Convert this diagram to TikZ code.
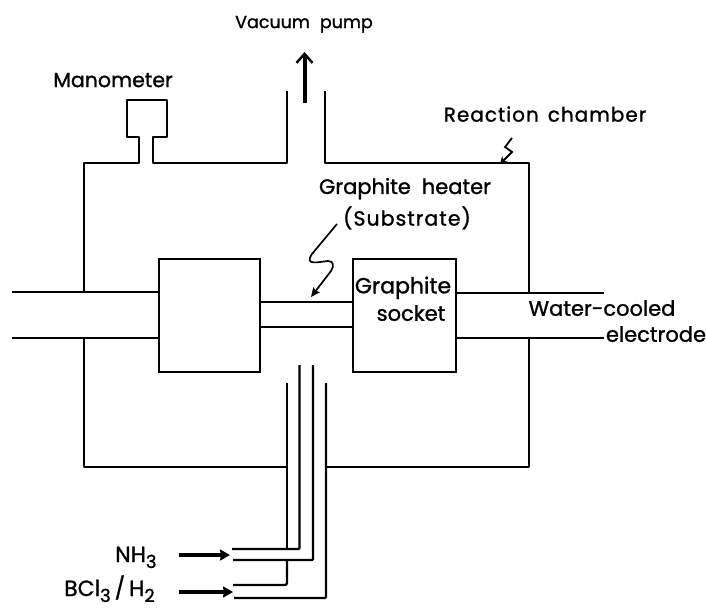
\documentclass[tikz,border=0pt]{standalone}
\usepackage{fontspec}
\setmainfont{Poppins}[AutoFakeBold=1.2]
\usetikzlibrary{arrows.meta}
\newcommand{\lsz}[1]{\fontsize{#1}{#1}\selectfont\bfseries}
\newcommand{\lowd}[1]{\raisebox{-6pt}{\fontsize{18}{18}\selectfont #1}}
\tikzset{
  wall/.style={line width=2.2pt,line join=round,line cap=butt},
  block/.style={draw,line width=2.2pt,minimum width=101pt,minimum height=113pt,inner sep=0pt,anchor=north west},
  label/.style={inner sep=0pt,text depth=0pt},
  feed/.style={line width=3.8pt,-{Stealth[length=10pt,width=11pt,inset=1pt]}},
  pointer/.style={line width=1.7pt,-{Stealth[length=9pt,width=8pt,inset=1pt]}},
}
\begin{document}
\begin{tikzpicture}[x=1pt,y=-1pt]
\useasboundingbox (0,0) rectangle (706,608);
% blocks
\node[block] (lblock) at (158,258) {};
\node[block,minimum width=103pt] (socket) at (352,258) {};
% chamber with manometer and pump port
\draw[wall] (287,91) -- (287,163) -- (153,163) -- (153,137) -- (167,137) -- (167,100) -- (127,100) -- (127,137) -- (139,137) -- (139,163) -- (84,163) -- (84,293);
\draw[wall] (84,338) -- (84,467) -- (287,467);
\draw[wall] (325,91) -- (325,163) -- (529,163) -- (529,293);
\draw[wall] (529,338) -- (529,467) -- (326,467);
% electrodes
\draw[wall] (12,292) -- (158,292);
\draw[wall] (12,338) -- (158,338);
\draw[wall] (455,293) -- (604,293);
\draw[wall] (455,338) -- (604,338);
% heater
\draw[wall] (259,302) -- (352,302);
\draw[wall] (259,327) -- (352,327);
% gas tubes
\draw[wall] (287,383) -- (287,548);
\draw[wall,rounded corners=2pt] (287,560) -- (287,585) -- (233,585);
\draw[wall,rounded corners=1pt] (299.5,365) -- (299.5,549) -- (232,549);
\draw[wall,rounded corners=1pt] (313,365) -- (313,560) -- (233,560);
\draw[wall,rounded corners=1pt] (326,383) -- (326,598) -- (234,598);
% arrows
\coordinate (pumpa) at (304.5,103);
\coordinate (pumpb) at (304.5,52);
\draw[line width=4pt,-{Straight Barb[length=9pt,width=16pt,line width=2.5pt]}] (pumpa) -- (pumpb);
\coordinate (nha) at (179,555);
\coordinate (nhb) at (230,555);
\draw[feed] (nha) -- (nhb);
\coordinate (bca) at (179,592);
\coordinate (bcb) at (233,592);
\draw[feed] (bca) -- (bcb);
% pointers
\coordinate (ha) at (337,224);
\coordinate (hb) at (311,297);
\draw[pointer] (ha) -- (312,254) .. controls (304,266) and (318,262) .. (328,261) .. controls (334,261) and (334,266) .. (331,271) -- (hb);
\coordinate (ra) at (512,138);
\coordinate (rb) at (500,164);
\draw[line width=1.8pt,-{Stealth[length=7pt,width=8pt]}] (ra) -- (505,147) -- (512,152) -- (rb);
% labels
\node[label,font=\lsz{17.5}] (vac) at (304,22) {Vacuum\hspace{10pt}pump};
\node[label,font=\lsz{20.5}] (man) at (113,80) {Manometer};
\node[label,font=\lsz{20}\addfontfeature{LetterSpace=5}] (rea) at (545,114) {Reaction\hspace{9pt}chamber};
\node[label,font=\lsz{21}] (gra) at (405,186) {Graphite\hspace{11pt}heater};
\node[label,font=\lsz{20.5}\addfontfeature{LetterSpace=5}] (sub) at (407,216) {(Substrate)};
\node[label,font=\lsz{22}] (gs1) at (403,285) {Graphite};
\node[label,font=\lsz{21}] (gs2) at (411,313) {socket};
\node[label,font=\lsz{21}] (wat) at (602,308) {Water-cooled};
\node[label,font=\lsz{21}] (ele) at (656,334) {electrode};
\node[label,font=\lsz{22},anchor=base west] (nh3) at (115,562) {NH\lowd{3}};
\node[label,font=\lsz{22},anchor=base west] (bcl) at (64,596) {BCl\lowd{3}\hspace{4pt}/\hspace{4pt}H\lowd{2}};
\end{tikzpicture}
\end{document}
